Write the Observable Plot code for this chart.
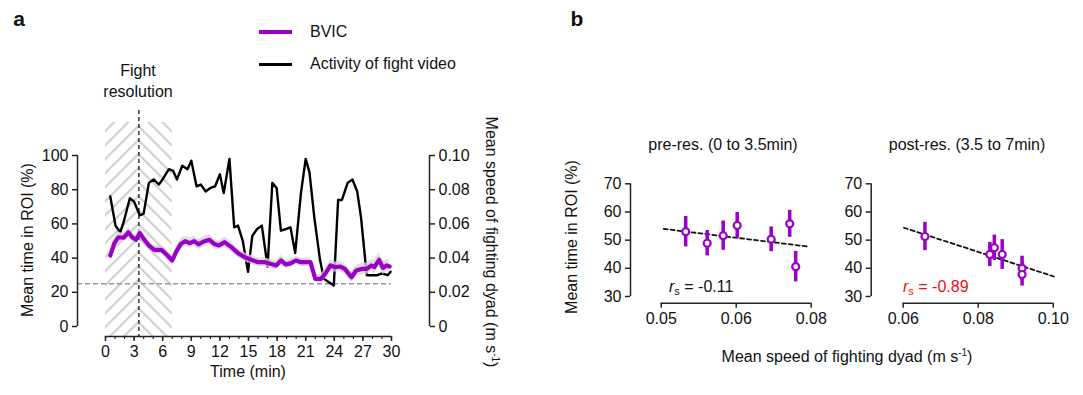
<!DOCTYPE html>
<html><head><meta charset="utf-8">
<script src="https://cdn.jsdelivr.net/npm/d3@7"></script>
<script src="https://cdn.jsdelivr.net/npm/@observablehq/plot@0.6"></script>
<style>
html,body{margin:0;padding:0;background:#fff;}
#root{position:relative;width:1083px;height:395px;overflow:hidden;font-family:"Liberation Sans",Arial,sans-serif;color:#111;}
.t{position:absolute;white-space:nowrap;line-height:1;font-size:16px;}
.t sup{font-size:10px;vertical-align:6px;line-height:0;}
.t sub{font-size:11px;vertical-align:-3px;line-height:0;}
</style></head><body><div id="root"></div>
<script>
// ---------- DATA ----------
// Panel a: BVIC (left axis, %)
const bvicTime = [0.5,0.9,1.35,1.9,2.4,2.8,3.2,3.6,4.0,4.55, 5.1,5.9,6.5,7.0,7.4,7.9,8.35,8.8,9.3,9.75, 10.3,10.9,11.4,11.9,12.5,13.2,13.9,14.6,15.3,16.0, 16.7,17.4,17.9,18.4,18.9,19.4,20.0,20.5,21.5,22.0, 22.6,23.1,23.6,24.1,24.6,25.1,25.8,26.3,26.9,27.4, 27.9,28.2,28.7,29.1,29.5,29.8];
const bvicVal  = [41.5,48.3,52.2,51.9,55.1,52.2,50.7,54.6,51.3,47.4, 44.8,44.8,41.5,38.6,43.5,48.3,49.9,48.7,49.9,48.0, 49.7,50.7,48.3,47.4,49.3,46.4,42.9,40.5,39.0,37.6, 37.6,36.6,35.7,38.6,36.3,36.9,38.6,37.6,37.6,27.9, 27.9,31.2,35.7,34.7,35.1,33.7,28.8,32.7,33.7,33.7, 35.7,34.7,39.0,34.3,35.7,35.1];
const bvicSem  = [2.5,3,3,2.5,3,2.5,2.5,3,2.5,2.5, 2.5,2.5,2.5,2.5,3,3,3,3,3,3, 3,3,3,2.5,3,3,2.5,2.5,2.5,2.5, 2.5,2.5,2.5,3,2.5,2.5,2.5,2.5,2.5,2.5, 2.5,3,3,3,3,3,3,3,3.5,3.5, 3.5,4,4,4,3.5,3.5];
// Panel a: activity of fight video (right axis, m/s)
const actTime = [0.5,1.05,1.55,1.9,2.55,3.0,3.6,4.0,4.55,5.05, 5.6,6.1,6.65,7.1,7.5,8.05,8.6,9.0,9.55,10.0, 10.5,11.0,11.5,12.0,12.4,13.0,13.5,13.9,14.4,14.95, 15.4,15.9,16.4,17.0,17.5,17.95,18.4,18.9,19.4,19.9, 20.5,21.0,21.4,21.9,22.5,22.9,23.4,23.95,24.4,24.8, 25.4,25.9,26.4,26.8,27.4,28.0,28.5,29.0,29.6,29.9];
const actVal  = [0.076,0.059,0.055,0.061,0.075,0.073,0.065,0.066,0.084,0.086, 0.083,0.087,0.092,0.091,0.086,0.094,0.092,0.097,0.082,0.083, 0.079,0.081,0.082,0.089,0.078,0.098,0.058,0.059,0.050,0.032, 0.053,0.057,0.059,0.035,0.084,0.081,0.056,0.057,0.058,0.043, 0.078,0.098,0.090,0.064,0.039,0.028,0.026,0.024,0.074,0.074, 0.084,0.086,0.079,0.064,0.030,0.030,0.030,0.031,0.030,0.032];
const fightTime = 3.5;
const hatchStart = [0, 3.5];
const hatchEnd = [3.5, 7];
const chanceLevel = 25;
const timeMajorTicks = [0,3,6,9,12,15,18,21,24,27,30];
const timeMinorTicks = [0,1,2,3,4,5,6,7,8,9,10,11,12,13,14,15,16,17,18,19,20,21,22,23,24,25,26,27,28,29,30];
const leftTicks = [0,20,40,60,80,100];
const rightTicks = [0,0.02,0.04,0.06,0.08,0.10];
const rightTickLabels = ["0","0.02","0.04","0.06","0.08","0.10"];

// Panel b: pre-resolution
const preSpeed = [0.0549,0.0592,0.0624,0.0652,0.0720,0.0757,0.0769];
const preMean  = [53.0,48.9,51.6,55.2,50.3,55.8,40.6];
const preErr   = [5.4,4.5,5.2,4.6,4.4,4.8,5.4];
const preFitX  = [0.0505,0.0795];
const preFitY  = [54.0,47.7];
const preTicks = [0.05,0.065,0.08];
const preTickLabels = ["0.05","0.06","0.08"];
// Panel b: post-resolution
const postSpeed = [0.0658,0.0831,0.0843,0.0864,0.0917,0.0917];
const postMean  = [51.3,44.9,47.3,44.9,40.0,37.8];
const postErr   = [5.0,4.3,4.5,5.3,4.3,4.1];
const postFitX  = [0.0602,0.1002];
const postFitY  = [54.4,37.1];
const postTicks = [0.06,0.08,0.10];
const postTickLabels = ["0.06","0.08","0.10"];
const bTicksY = [30,40,50,60,70];

// ---------- RENDER ----------
const W = 1083, H = 395;
const PURPLE = "#9a00c8";
const AX = "#222";
const root = document.getElementById("root");

function plotAt(opts) {
  const svg = Plot.plot({
    width: W, height: H, ...opts,
    style: {background: "transparent", fontFamily: "'Liberation Sans', Arial, sans-serif", fontSize: "16px", color: "#111", overflow: "visible"}
  });
  svg.style.position = "absolute"; svg.style.left = "0px"; svg.style.top = "0px";
  svg.style.maxWidth = "none";
  root.append(svg);
  return svg;
}
function txt(html, x, y, o = {}) {
  const d = document.createElement("div");
  d.className = "t"; d.innerHTML = html;
  const tx = o.anchor === "start" ? "0" : o.anchor === "end" ? "-100%" : "-50%";
  d.style.left = x + "px"; d.style.top = y + "px";
  d.style.transform = `translate(${tx},-50%)` + (o.rotate ? ` rotate(${o.rotate}deg)` : "");
  if (o.size) d.style.fontSize = o.size + "px";
  if (o.weight) d.style.fontWeight = o.weight;
  if (o.color) d.style.color = o.color;
  root.append(d);
  return d;
}

// Panel a frame
const aFrame = {marginLeft: 105, marginRight: W - 391, marginTop: 155, marginBottom: H - 326};
const bvic = bvicTime.map((t, i) => ({t, v: bvicVal[i], s: bvicSem[i]}));
const act = actTime.map((t, i) => ({t, v: actVal[i]}));
const hatch = hatchStart.map((x1, i) => ({x1, x2: hatchEnd[i]}));

// layer 1: hatch, reference lines, left & bottom axes
const a1 = plotAt({
  ...aFrame,
  x: {domain: [0, 30], axis: null},
  y: {domain: [0, 100], axis: null},
  marks: [
    Plot.rect(hatch, {x1: "x1", x2: "x2", y1: 0, y2: 100, insetTop: -33, insetBottom: -10, fill: "#ccc"}),
    Plot.ruleY([chanceLevel], {insetLeft: -28, stroke: "#999", strokeWidth: 1.3, strokeDasharray: "5,3"}),
    Plot.ruleX([fightTime], {insetTop: -45, insetBottom: -10, stroke: "#333", strokeWidth: 1.5, strokeDasharray: "4,3"}),
    Plot.ruleX([0], {y1: 0, y2: 100, dx: -28, stroke: AX, strokeWidth: 1.5}),
    Plot.axisY({ticks: leftTicks, tickSize: 5, dx: -28, label: null, stroke: AX, strokeWidth: 1.5, tickFormat: d => String(d)}),
    Plot.ruleY([0], {x1: 0, x2: 30, dy: 10, stroke: AX, strokeWidth: 1.5}),
    Plot.axisX({ticks: timeMinorTicks, tickSize: 3, dy: 10, text: null, label: null, stroke: AX, strokeWidth: 1.2}),
    Plot.axisX({ticks: timeMajorTicks, tickSize: 5, dy: 10, label: null, stroke: AX, strokeWidth: 1.5, tickFormat: d => String(d)})
  ]
});
// hatch patterns (chevrons meeting at fight resolution line)
{
  const ns = "http://www.w3.org/2000/svg";
  const cx = a1.scale("x").apply(fightTime);
  const w = 14;
  const defs = document.createElementNS(ns, "defs");
  const mk = (id, d) => {
    const p = document.createElementNS(ns, "pattern");
    p.setAttribute("id", id); p.setAttribute("patternUnits", "userSpaceOnUse");
    p.setAttribute("width", w); p.setAttribute("height", w);
    p.setAttribute("x", cx); p.setAttribute("y", 0);
    const path = document.createElementNS(ns, "path");
    path.setAttribute("d", d); path.setAttribute("stroke", "#cdcdcd");
    path.setAttribute("stroke-width", 2); path.setAttribute("fill", "none");
    p.append(path); defs.append(p);
  };
  mk("hatchL", `M0,${w} L${w},0 M${-w/2},${w/2} L${w/2},${-w/2} M${w/2},${1.5*w} L${1.5*w},${w/2}`);
  mk("hatchR", `M0,0 L${w},${w} M${-w/2},${w/2} L${w/2},${1.5*w} M${w/2},${-w/2} L${1.5*w},${w/2}`);
  a1.insertBefore(defs, a1.firstChild);
  const rects = a1.querySelectorAll('g[aria-label="rect"] rect');
  rects.forEach((r, i) => r.setAttribute("fill", i === 0 ? "url(#hatchL)" : "url(#hatchR)"));
}

// layer 2: activity (right axis)
plotAt({
  ...aFrame,
  x: {domain: [0, 30], axis: null},
  y: {domain: [0, 0.1], axis: null},
  marks: [
    Plot.line(act, {x: "t", y: "v", stroke: "#000", strokeWidth: 2.4}),
    Plot.ruleX([30], {y1: 0, y2: 0.1, dx: 38, stroke: AX, strokeWidth: 1.5}),
    Plot.axisY({anchor: "right", ticks: rightTicks, tickSize: 5, dx: 38, label: null, stroke: AX, strokeWidth: 1.5,
      tickFormat: d => rightTickLabels[rightTicks.indexOf(d)]})
  ]
});

// layer 3: BVIC
plotAt({
  ...aFrame,
  x: {domain: [0, 30], axis: null},
  y: {domain: [0, 100], axis: null},
  marks: [
    Plot.areaY(bvic, {x: "t", y1: d => d.v - d.s, y2: d => d.v + d.s, fill: "#d6d6d6", fillOpacity: 0.8}),
    Plot.line(bvic, {x: "t", y: "v", stroke: PURPLE, strokeWidth: 4.2})
  ]
});

// Panel b scatter subplots
function scatter(speed, mean, err, fitX, fitY, ticks, tickLabels, left, right, yDx) {
  const pts = speed.map((x, i) => ({x, y: mean[i], lo: mean[i] - err[i], hi: mean[i] + err[i]}));
  const fit = fitX.map((x, i) => ({x, y: fitY[i]}));
  const dom = [ticks[0], ticks[ticks.length - 1]];
  plotAt({
    marginLeft: left, marginRight: W - right, marginTop: 183.3, marginBottom: H - 296,
    x: {domain: dom, axis: null},
    y: {domain: [30, 70], axis: null},
    marks: [
      Plot.ruleX([dom[0]], {y1: 30, y2: 70, dx: yDx, stroke: AX, strokeWidth: 1.5}),
      Plot.axisY({ticks: bTicksY, tickSize: 5, dx: yDx, label: null, stroke: AX, strokeWidth: 1.5, tickFormat: d => String(d)}),
      Plot.ruleY([30], {x1: dom[0], x2: dom[1], dy: 6.7, stroke: AX, strokeWidth: 1.5}),
      Plot.axisX({ticks, tickSize: 5, dy: 6.7, label: null, stroke: AX, strokeWidth: 1.5,
        tickFormat: d => tickLabels[ticks.indexOf(d)]}),
      Plot.line(fit, {x: "x", y: "y", stroke: "#111", strokeWidth: 1.8, strokeDasharray: "4,3"}),
      Plot.ruleX(pts, {x: "x", y1: "lo", y2: "hi", stroke: PURPLE, strokeWidth: 3.5}),
      Plot.dot(pts, {x: "x", y: "y", r: 3.5, stroke: PURPLE, strokeWidth: 2.2, fill: "white"})
    ]
  });
}
scatter(preSpeed, preMean, preErr, preFitX, preFitY, preTicks, preTickLabels, 660.7, 810.7, -30.7);
scatter(postSpeed, postMean, postErr, postFitX, postFitY, postTicks, postTickLabels, 902.7, 1052.7, -32);

// ---------- TEXT ----------
txt("a", 19, 18, {size: 21, weight: "bold"});
txt("b", 577, 18, {size: 21, weight: "bold"});
// legend
const sw1 = document.createElement("div");
sw1.style.cssText = `position:absolute;left:259px;top:30px;width:33px;height:4px;background:${PURPLE}`;
root.append(sw1);
const sw2 = document.createElement("div");
sw2.style.cssText = `position:absolute;left:259px;top:63px;width:33px;height:2.5px;background:#000`;
root.append(sw2);
txt("BVIC", 310, 32, {anchor: "start"});
txt("Activity of fight video", 310, 64, {anchor: "start"});
txt("Fight", 138, 71);
txt("resolution", 138, 92);
txt("Mean time in ROI (%)", 28, 240, {rotate: -90});
txt("Mean speed of fighting dyad (m s<sup>-1</sup>)", 491, 242, {rotate: 90});
txt("Time (min)", 248, 372);
txt("pre-res. (0 to 3.5min)", 723, 145);
txt("post-res. (3.5 to 7min)", 967, 145);
txt("Mean time in ROI (%)", 572, 237, {rotate: -90});
txt("Mean speed of fighting dyad (m s<sup>-1</sup>)", 847, 357);
txt("<i>r</i><sub>s</sub> = -0.11", 669, 287, {anchor: "start"});
txt("<i>r</i><sub>s</sub> = -0.89", 903, 287, {anchor: "start", color: "#e8101a"});
</script></body></html>
